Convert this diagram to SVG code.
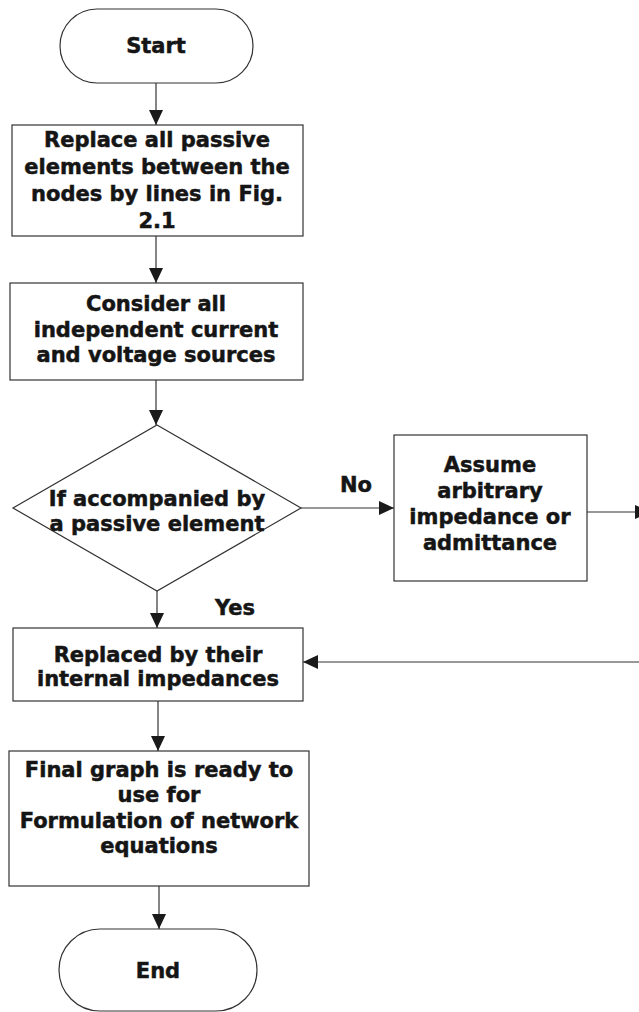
<svg xmlns="http://www.w3.org/2000/svg" width="639" height="1012" viewBox="0 0 639 1012">
<style>
.shape{fill:#ffffff;stroke:#333333;stroke-width:1.2}
.t{font-family:"DejaVu Sans","Liberation Sans",sans-serif;font-weight:bold;font-size:21px;fill:#151515;stroke:#151515;stroke-width:0.5;text-anchor:middle}
.c{fill:none;stroke:#333333;stroke-width:1.2}
</style>
<defs>
<marker id="ah" markerUnits="userSpaceOnUse" markerWidth="16" markerHeight="14" refX="15" refY="7" orient="auto">
<path d="M0,0 L15,7 L0,14 z" fill="#1a1a1a"/>
</marker>
</defs>
<rect width="639" height="1012" fill="#ffffff"/>
<g id="connectors">
<line class="c" x1="156" y1="83" x2="156" y2="125" marker-end="url(#ah)"/>
<line class="c" x1="156" y1="236" x2="156" y2="283" marker-end="url(#ah)"/>
<line class="c" x1="156" y1="380" x2="156" y2="425" marker-end="url(#ah)"/>
<line class="c" x1="157" y1="591" x2="157" y2="628" marker-end="url(#ah)"/>
<line class="c" x1="301" y1="508" x2="394" y2="508" marker-end="url(#ah)"/>
<line class="c" x1="587" y1="512" x2="650" y2="512" marker-end="url(#ah)"/>
<line class="c" x1="640" y1="662" x2="303" y2="662" marker-end="url(#ah)"/>
<line class="c" x1="158" y1="701" x2="158" y2="751" marker-end="url(#ah)"/>
<line class="c" x1="159" y1="886" x2="159" y2="929" marker-end="url(#ah)"/>
<text class="t" x="356" y="492">No</text>
<text class="t" x="235" y="615">Yes</text>
</g>
<g id="start">
<rect class="shape" x="60" y="9" width="193" height="74" rx="37" ry="37"/>
<text class="t" x="156" y="53">Start</text>
</g>
<g id="replace-passive">
<rect class="shape" x="12" y="125" width="291" height="111"/>
<text class="t" x="157" y="147">Replace all passive</text>
<text class="t" x="157" y="174">elements between the</text>
<text class="t" x="157" y="201">nodes by lines in Fig.</text>
<text class="t" x="157" y="228">2.1</text>
</g>
<g id="consider-sources">
<rect class="shape" x="10" y="283" width="293" height="97"/>
<text class="t" x="156" y="311">Consider all</text>
<text class="t" x="156" y="337">independent current</text>
<text class="t" x="156" y="362">and voltage sources</text>
</g>
<g id="decision">
<polygon class="shape" points="157,425 301,508 157,591 13,508"/>
<text class="t" x="157" y="506">If accompanied by</text>
<text class="t" x="157" y="531">a passive element</text>
</g>
<g id="assume">
<rect class="shape" x="394" y="435" width="193" height="146"/>
<text class="t" x="490" y="472">Assume</text>
<text class="t" x="490" y="498">arbitrary</text>
<text class="t" x="490" y="524">impedance or</text>
<text class="t" x="490" y="550">admittance</text>
</g>
<g id="replaced-internal">
<rect class="shape" x="13" y="628" width="290" height="73"/>
<text class="t" x="158" y="662">Replaced by their</text>
<text class="t" x="158" y="686">internal impedances</text>
</g>
<g id="final-graph">
<rect class="shape" x="9" y="751" width="300" height="135"/>
<text class="t" x="159" y="777">Final graph is ready to</text>
<text class="t" x="159" y="802">use for</text>
<text class="t" x="159" y="828">Formulation of network</text>
<text class="t" x="159" y="853">equations</text>
</g>
<g id="end">
<rect class="shape" x="59" y="929" width="198" height="82" rx="41" ry="41"/>
<text class="t" x="158" y="978">End</text>
</g>
</svg>
